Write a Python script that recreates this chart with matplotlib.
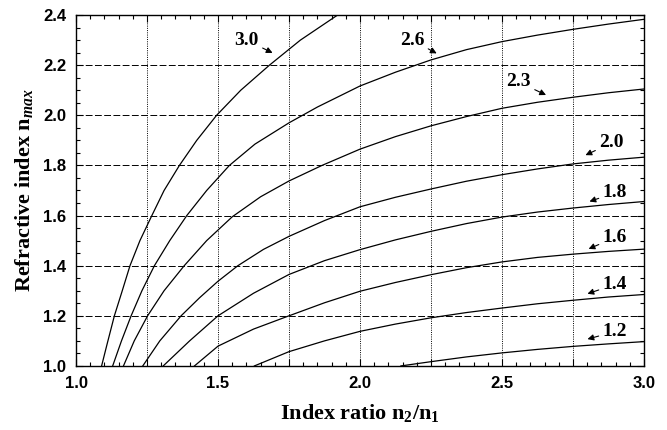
import matplotlib
matplotlib.use("Agg")
import matplotlib.pyplot as plt
from matplotlib.ticker import MultipleLocator

# curves, labelled by their parameter
labels = ["3.0", "2.6", "2.3", "2.0", "1.8", "1.6", "1.4", "1.2"]

x30 = [1.090, 1.110, 1.135, 1.160, 1.190, 1.225, 1.267, 1.310, 1.364, 1.425, 1.495, 1.580, 1.681, 1.790, 1.921]
y30 = [1.000, 1.090, 1.200, 1.290, 1.400, 1.500, 1.600, 1.700, 1.800, 1.900, 2.000, 2.100, 2.200, 2.300, 2.400]

x26 = [1.129, 1.160, 1.194, 1.232, 1.276, 1.330, 1.390, 1.460, 1.540, 1.630, 1.750, 1.850, 2.000,
       2.125, 2.250, 2.375, 2.500, 2.625, 2.750, 2.875, 3.000]
y26 = [1.000, 1.100, 1.200, 1.300, 1.400, 1.500, 1.600, 1.700, 1.800, 1.885, 1.970, 2.033, 2.117,
       2.172, 2.221, 2.262, 2.294, 2.320, 2.343, 2.364, 2.383]

x23 = [1.167, 1.205, 1.252, 1.310, 1.381, 1.460, 1.550, 1.650, 1.750, 1.866, 2.000, 2.125, 2.250,
       2.375, 2.500, 2.625, 2.750, 2.875, 3.000]
y23 = [1.000, 1.100, 1.200, 1.300, 1.400, 1.500, 1.595, 1.675, 1.738, 1.800, 1.865, 1.915, 1.958,
       1.995, 2.028, 2.052, 2.072, 2.090, 2.105]

x20 = [1.235, 1.295, 1.370, 1.435, 1.500, 1.570, 1.660, 1.750, 1.875, 2.000, 2.125, 2.250, 2.375,
       2.500, 2.625, 2.750, 2.875, 3.000]
y20 = [1.000, 1.100, 1.200, 1.272, 1.338, 1.400, 1.465, 1.517, 1.580, 1.635, 1.673, 1.706, 1.737,
       1.763, 1.786, 1.806, 1.821, 1.833]

x18 = [1.307, 1.400, 1.500, 1.625, 1.750, 1.875, 2.000, 2.125, 2.250, 2.375, 2.500, 2.625, 2.750,
       2.875, 3.000]
y18 = [1.000, 1.100, 1.200, 1.290, 1.365, 1.420, 1.464, 1.503, 1.537, 1.568, 1.594, 1.614, 1.630,
       1.644, 1.656]

x16 = [1.417, 1.500, 1.625, 1.750, 1.875, 2.000, 2.125, 2.250, 2.375, 2.500, 2.625, 2.750, 2.875, 3.000]
y16 = [1.000, 1.079, 1.147, 1.200, 1.252, 1.298, 1.333, 1.364, 1.392, 1.415, 1.433, 1.446, 1.457, 1.466]

x14 = [1.628, 1.750, 1.875, 2.000, 2.125, 2.250, 2.375, 2.500, 2.625, 2.750, 2.875, 3.000]
y14 = [1.000, 1.057, 1.100, 1.138, 1.167, 1.192, 1.213, 1.231, 1.248, 1.262, 1.275, 1.285]

x12 = [2.144, 2.250, 2.375, 2.500, 2.625, 2.750, 2.875, 3.000]
y12 = [1.000, 1.017, 1.036, 1.052, 1.066, 1.078, 1.088, 1.097]

curves = [(x30, y30), (x26, y26), (x23, y23), (x20, y20),
          (x18, y18), (x16, y16), (x14, y14), (x12, y12)]

# label text centre and arrow tip for each curve
label_xy = [(1.600, 2.300), (2.183, 2.300), (2.558, 2.133), (2.886, 1.890),
            (2.898, 1.691), (2.898, 1.512), (2.898, 1.325), (2.898, 1.137)]
tip_xy = [(1.692, 2.249), (2.270, 2.247), (2.655, 2.081), (2.794, 1.841),
          (2.808, 1.656), (2.805, 1.467), (2.801, 1.288), (2.801, 1.107)]

xticks = [1.0, 1.25, 1.5, 1.75, 2.0, 2.25, 2.5, 2.75, 3.0]
xticklabels = ["1.0", "", "1.5", "", "2.0", "", "2.5", "", "3.0"]
yticks = [1.0, 1.2, 1.4, 1.6, 1.8, 2.0, 2.2, 2.4]

plt.rcParams["mathtext.fontset"] = "custom"
plt.rcParams["mathtext.rm"] = "Liberation Serif:bold"
plt.rcParams["mathtext.it"] = "Liberation Serif:italic:bold"

fig = plt.figure(figsize=(6.67, 4.30), dpi=100)
ax = fig.add_axes([0.114, 0.149, 0.8515, 0.816])

for x, y in curves:
    ax.plot(x, y, color="black", lw=0.9)

for t, xy, tip in zip(labels, label_xy, tip_xy):
    ax.annotate(t, xy=tip, xytext=xy, ha="center", va="center",
                family="Liberation Serif", fontweight="bold", fontsize=14,
                arrowprops=dict(arrowstyle="-|>", color="black", lw=0.8,
                                mutation_scale=9, shrinkA=1, shrinkB=0))

for v in xticks[1:-1]:
    ax.axvline(v, color="black", lw=0.7, ls=(0, (1, 1.3)), zorder=0)
for v in yticks[1:-1]:
    ax.axhline(v, color="black", lw=0.7, ls=(0, (7, 2.5)), zorder=0)

ax.set_xlim(1.0, 3.0)
ax.set_ylim(1.0, 2.4)
ax.set_xticks(xticks)
ax.set_xticklabels(xticklabels)
ax.set_yticks(yticks)
ax.set_yticklabels(["%.1f" % v for v in yticks])
ax.xaxis.set_minor_locator(MultipleLocator(0.05))
ax.yaxis.set_minor_locator(MultipleLocator(0.05))
ax.tick_params(which="both", direction="in", top=True, right=True, width=0.8)
ax.tick_params(which="major", length=5, pad=7)
ax.tick_params(which="minor", length=3)
for lab in ax.get_xticklabels() + ax.get_yticklabels():
    lab.set_family("Liberation Sans")
    lab.set_fontweight("bold")
    lab.set_fontsize(12)
for s in ax.spines.values():
    s.set_linewidth(1.0)

ax.set_xlabel("Index ratio n$_2$/n$_1$", family="Liberation Serif",
              fontweight="bold", fontsize=16, labelpad=8)
ax.set_ylabel("Refractive index n$_{\\mathit{max}}$", family="Liberation Serif",
              fontweight="bold", fontsize=16, labelpad=6)

fig.savefig("out.png", dpi=100)
